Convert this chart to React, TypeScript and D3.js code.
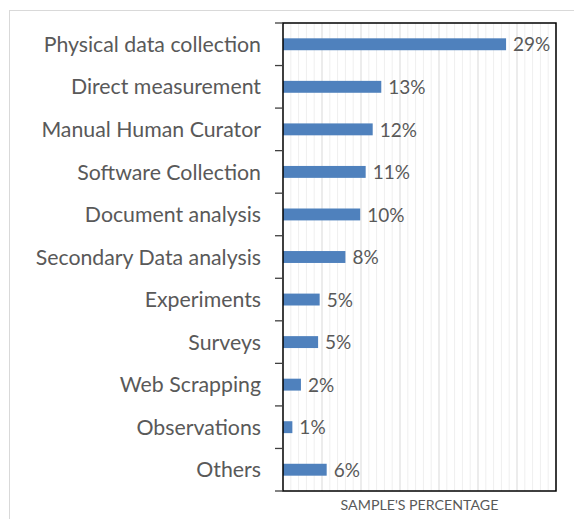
import React from 'react'
import * as d3 from 'd3'

// categories top to bottom
const categories = [
  'Physical data collection',
  'Direct measurement',
  'Manual Human Curator',
  'Software Collection',
  'Document analysis',
  'Secondary Data analysis',
  'Experiments',
  'Surveys',
  'Web Scrapping',
  'Observations',
  'Others',
]
// share of sample (%)
const values = [28.6, 12.6, 11.5, 10.6, 9.9, 8.0, 4.7, 4.5, 2.3, 1.2, 5.6]
const valueLabels = ['29%', '13%', '12%', '11%', '10%', '8%', '5%', '5%', '2%', '1%', '6%']
const xMax = 35
const majorStep = 5

const W = 574
const H = 519
const plot = { left: 283, right: 556, top: 23, bottom: 491 }
const font = 'Lato, "Noto Sans", sans-serif'
const textColor = '#595959'

export default function App() {
  const xScale = d3.scaleLinear().domain([0, xMax]).range([plot.left, plot.right])
  const yScale = d3.scaleBand<string>()
    .domain(categories)
    .range([plot.top, plot.bottom])
    .paddingInner(0.72)
    .paddingOuter(0.36)

  const minorTicks = d3.range(1, xMax + 1)
  const band = (plot.bottom - plot.top) / categories.length
  const tickYs = d3.range(categories.length + 1).map(i => plot.top + i * band)

  return (
    <svg width={W} height={H} style={{ position: 'absolute', left: 0, top: 0 }}>
      <rect x={0} y={0} width={W} height={H} fill='white' />
      {/* outer chart frame */}
      <rect x={9.5} y={10.5} width={W} height={H} fill='white' stroke='#d9d9d9' strokeWidth={1} />

      {/* gridlines */}
      {minorTicks.map(t => (
        <line
          key={'g' + t}
          x1={xScale(t)} x2={xScale(t)}
          y1={plot.top} y2={plot.bottom}
          stroke={t % majorStep === 0 ? '#d9d9d9' : '#efefef'}
          strokeWidth={1}
        />
      ))}

      {/* bars */}
      {categories.map((c, i) => (
        <rect
          key={'b' + i}
          x={xScale(0)}
          y={yScale(c)}
          width={xScale(values[i]) - xScale(0)}
          height={yScale.bandwidth()}
          fill='#4f81bd'
        />
      ))}

      {/* value labels */}
      {categories.map((c, i) => (
        <text
          key={'v' + i}
          x={xScale(values[i]) + 7}
          y={(yScale(c) || 0) + yScale.bandwidth() / 2}
          dy='0.38em'
          fontFamily={font}
          fontSize={19}
          fill={textColor}
        >
          {valueLabels[i]}
        </text>
      ))}

      {/* category labels */}
      {categories.map((c, i) => (
        <text
          key={'c' + i}
          x={261}
          y={(yScale(c) || 0) + yScale.bandwidth() / 2}
          dy='0.36em'
          textAnchor='end'
          fontFamily={font}
          fontSize={21.3}
          fill={textColor}
        >
          {c}
        </text>
      ))}

      {/* plot frame */}
      <rect
        x={plot.left} y={plot.top}
        width={plot.right - plot.left} height={plot.bottom - plot.top}
        fill='none' stroke='#000' strokeWidth={1.5}
      />
      {/* left axis ticks */}
      {tickYs.map((y, i) => (
        <line key={'t' + i} x1={plot.left - 8} x2={plot.left} y1={y} y2={y} stroke='#404040' strokeWidth={1.3} />
      ))}

      <text
        x={(plot.left + plot.right) / 2}
        y={510}
        textAnchor='middle'
        fontFamily={font}
        fontSize={14.2}
        fill={textColor}
      >
        SAMPLE'S PERCENTAGE
      </text>
    </svg>
  )
}
